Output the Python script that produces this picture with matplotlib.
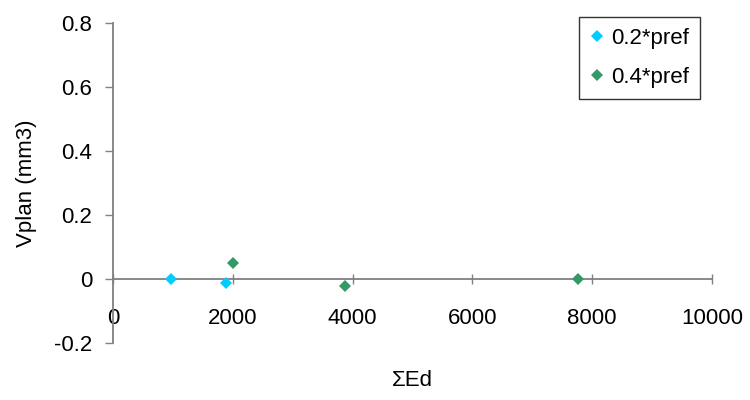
import matplotlib.pyplot as plt

plt.rcParams['font.family'] = ['Liberation Sans', 'DejaVu Sans']

# series
ed_02 = [965, 1890]
vplan_02 = [0.0, -0.012]
ed_04 = [2000, 3870, 7760]
vplan_04 = [0.05, -0.02, 0.0]

xticks = [0, 2000, 4000, 6000, 8000, 10000]
yticks = [-0.2, 0, 0.2, 0.4, 0.6, 0.8]

fig = plt.figure(figsize=(7.5, 4), dpi=100)
ax = fig.add_axes([0.1507, 0.1418, 0.7986, 0.8015])

ax.plot(ed_02, vplan_02, 'D', color='#00CCFF', markersize=6.5, markeredgewidth=0,
        label='0.2*pref', zorder=3)
ax.plot(ed_04, vplan_04, 'D', color='#339966', markersize=6.5, markeredgewidth=0,
        label='0.4*pref', zorder=3)

ax.set_xlim(0, 10000)
ax.set_ylim(-0.2, 0.8)
ax.set_xticks(xticks)
ax.set_yticks(yticks)
ax.set_xticklabels([str(v) for v in xticks])
ax.set_yticklabels(['-0.2', '0', '0.2', '0.4', '0.6', '0.8'])

grey = '#808080'
for s in ['top', 'right']:
    ax.spines[s].set_visible(False)
ax.spines['bottom'].set_position(('data', 0))
ax.spines['bottom'].set_color(grey)
ax.spines['left'].set_color(grey)
ax.spines['bottom'].set_linewidth(1.3)
ax.spines['left'].set_linewidth(1.3)

ax.tick_params(axis='x', direction='inout', length=7, width=1, color=grey,
               labelsize=16, pad=17)
ax.tick_params(axis='y', direction='out', length=6, width=1, color=grey,
               labelsize=16, pad=9)

ax.set_xlabel('ΣEd', fontsize=16, va='center')
ax.xaxis.set_label_coords(0.499, -0.1176)
ax.set_ylabel('Vplan (mm3)', fontsize=16, va='center')
ax.yaxis.set_label_coords(-0.145, 0.5)

leg = ax.legend(loc='upper right', bbox_to_anchor=(700 / 750, 1 - 17 / 400),
                bbox_transform=fig.transFigure, fontsize=16, frameon=True,
                fancybox=False, edgecolor='black', borderaxespad=0,
                handlelength=0.6, handletextpad=0.35, labelspacing=0.8,
                borderpad=0.5)
leg.get_frame().set_linewidth(1)

fig.savefig('out.png', dpi=100)
